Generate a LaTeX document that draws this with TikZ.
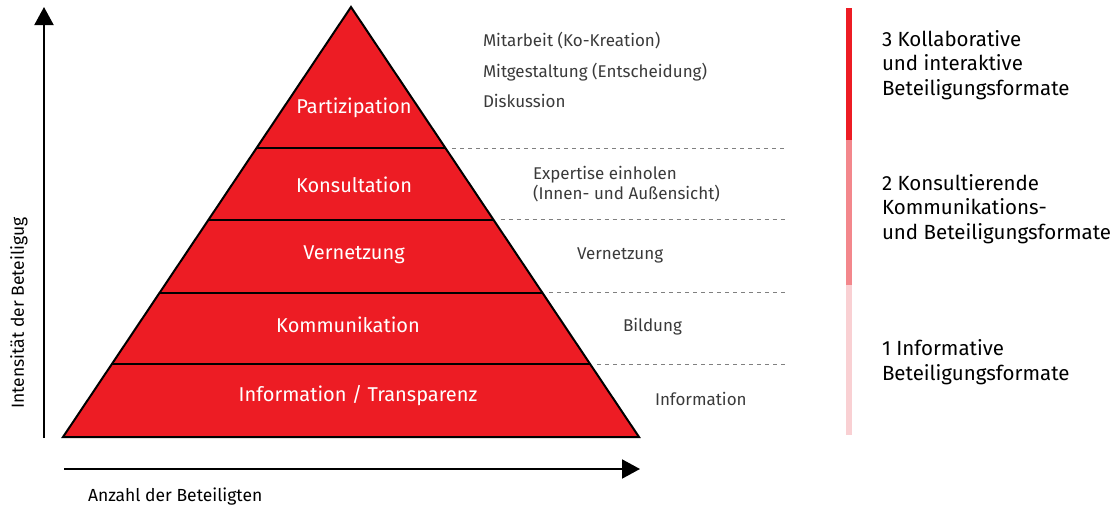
\documentclass[tikz,border=0pt]{standalone}
\usepackage{fontspec}
\setmainfont{Fira Sans}
\usepackage{xcolor}
\usetikzlibrary{calc}
\usetikzlibrary{positioning}
\usetikzlibrary{arrows.meta}
\definecolor{pyrred}{HTML}{ED1C24}
\definecolor{pyrmid}{HTML}{F3878C}
\definecolor{pyrlight}{HTML}{F9D0D3}
\definecolor{notegray}{HTML}{3A3A3A}

\begin{document}
\begin{tikzpicture}[x=1pt,y=-1pt,line width=2pt,
  layer/.style={text=white,font=\fontsize{20}{24}\selectfont},
  note/.style={text=notegray,font=\fontsize{17}{20.5}\selectfont,anchor=west,inner sep=0pt,align=left},
  format/.style={text=black,font=\fontsize{20.5}{24.5}\selectfont,anchor=west,inner sep=0pt,align=left},
  axislabel/.style={text=black,font=\fontsize{17.5}{20}\selectfont,inner sep=0pt},
  level/.style={line width=0.8pt,gray,dash pattern=on 4pt off 4pt},
  axis/.style={-{Triangle[length=18pt,width=19pt]}}]

  \useasboundingbox (0,0) rectangle (1120,506);

  % pyramid
  \coordinate (top) at (351,7);
  \coordinate (bl) at (63,437);
  \coordinate (br) at (639,437);
  \draw[fill=pyrred] (top) -- (bl) -- (br) -- cycle;
  \coordinate (dashend) at (787,0);
  \foreach \t [count=\i] in {0.328,0.495,0.664,0.831}{
    \coordinate (l\i) at ($(top)!\t!(bl)$);
    \coordinate (r\i) at ($(top)!\t!(br)$);
    \draw (l\i) -- (r\i);
    \draw[level] ([xshift=7pt]r\i) -- (dashend |- r\i);
  }

  \node[layer] at (354,108) (part){Partizipation};
  \node[layer] at (354,185) (kons){Konsultation};
  \node[layer] at (354,255) (vern){Vernetzung};
  \node[layer] at (348,325) (komm){Kommunikation};
  \node[layer] at (358,396) (info){Information / Transparenz};

  % methods next to the pyramid
  \node[note] at (482,41) (mitarb){Mitarbeit (Ko-Kreation)};
  \node[note] at (482,72) (mitgest){Mitgestaltung (Entscheidung)};
  \node[note] at (482,101) (disk){Diskussion};
  \node[note] at (532,184) (expert){Expertise einholen\\(Innen- und Außensicht)};
  \node[note] at (576,255) (vernetz){Vernetzung};
  \node[note] at (622,327) (bild){Bildung};
  \node[note] at (654,399) (infor){Information};

  % axes
  \coordinate (yfoot) at (44,438);
  \coordinate (ytip) at (44,7);
  \coordinate (xfoot) at (64,469);
  \coordinate (xtip) at (640,469);
  \draw[axis] (yfoot) -- (ytip);
  \draw[axis] (xfoot) -- (xtip);
  \node[axislabel,rotate=90] at (19,313) (ylab){Intensität der Beteiligug};
  \node[axislabel,anchor=west] at (87,497) (xlab){Anzahl der Beteiligten};

  % format bar
  \coordinate (bar3) at (849,8);
  \coordinate (bar2) at (849,140);
  \coordinate (bar1) at (849,285);
  \coordinate (bar0) at (849,435);
  \draw[line width=6pt,pyrred] (bar3) -- (bar2);
  \draw[line width=6pt,pyrmid] (bar2) -- (bar1);
  \draw[line width=6pt,pyrlight] (bar1) -- (bar0);

  \node[format] at (881,65) (kollab){3 Kollaborative\\und interaktive\\Beteiligungsformate};
  \node[format] at (881,209) (konsult){2 Konsultierende\\Kommunikations-\\und Beteiligungsformate};
  \node[format] at (881,362) (informat){1 Informative\\Beteiligungsformate};

\end{tikzpicture}
\end{document}
